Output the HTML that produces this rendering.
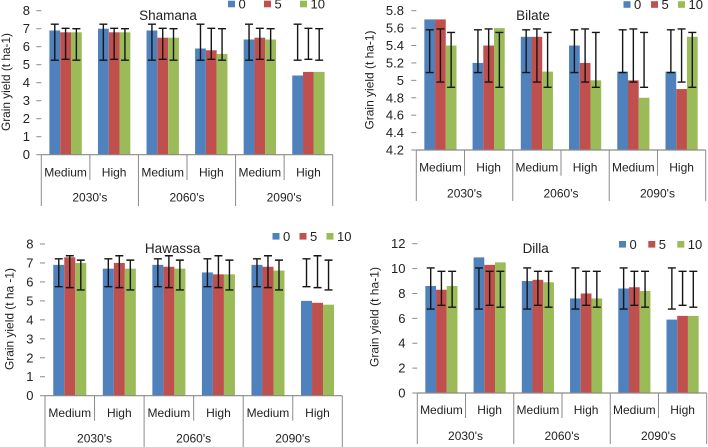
<!DOCTYPE html>
<html lang="en">
<head>
<meta charset="utf-8">
<title>Grain yield charts</title>
<style>
html,body{margin:0;padding:0;background:#fff;width:708px;height:447px;overflow:hidden}
svg{display:block;filter:blur(0.3px)}
text{font-family:"Liberation Sans",sans-serif;fill:#222}
</style>
</head>
<body>
<svg id="figure" xmlns="http://www.w3.org/2000/svg" width="708" height="447" viewBox="0 0 708 447"></svg>
<script>
const periods = ["2030's", "2060's", "2090's"];
const scenarios = ["Medium", "High"];
const seriesNames = ["0", "5", "10"];
const seriesColors = ["#4F81BD", "#C0504D", "#9BBB59"];

const shamanaTicks = ["0", "1", "2", "3", "4", "5", "6", "7", "8"];
const shamanaValues0 = [6.9, 7.0, 6.9, 5.9, 6.4, 4.4];
const shamanaValues5 = [6.8, 6.8, 6.5, 5.8, 6.5, 4.6];
const shamanaValues10 = [6.8, 6.8, 6.5, 5.6, 6.4, 4.6];
const shamanaErrLow = [5.25, 5.3, 5.25];
const shamanaErrHigh = [7.25, 7.02, 7.0];

const bilateTicks = ["4.2", "4.4", "4.6", "4.8", "5", "5.2", "5.4", "5.6", "5.8"];
const bilateValues0 = [5.7, 5.2, 5.5, 5.4, 5.1, 5.1];
const bilateValues5 = [5.7, 5.4, 5.5, 5.2, 5.0, 4.9];
const bilateValues10 = [5.4, 5.6, 5.1, 5.0, 4.8, 5.5];
const bilateErrLow = [5.09, 4.98, 4.92];
const bilateErrHigh = [5.58, 5.59, 5.55];

const hawassaTicks = ["0", "1", "2", "3", "4", "5", "6", "7", "8"];
const hawassaValues0 = [6.9, 6.7, 6.9, 6.5, 6.9, 5.0];
const hawassaValues5 = [7.3, 7.0, 6.8, 6.4, 6.8, 4.9];
const hawassaValues10 = [7.0, 6.7, 6.7, 6.4, 6.6, 4.8];
const hawassaErrLow = [5.75, 5.7, 5.58];
const hawassaErrHigh = [7.22, 7.38, 7.15];

const dillaTicks = ["0", "2", "4", "6", "8", "10", "12"];
const dillaValues0 = [8.6, 10.9, 9.0, 7.6, 8.4, 5.9];
const dillaValues5 = [8.3, 10.3, 9.1, 8.0, 8.5, 6.2];
const dillaValues10 = [8.6, 10.5, 8.9, 7.6, 8.2, 6.2];
const dillaErrLow = [6.75, 7.05, 6.9];
const dillaErrHigh = [10.05, 9.78, 9.78];

const svg = document.getElementById('figure');
const NS = 'http://www.w3.org/2000/svg';

function make(tag, parent, props, content) {
  const el = document.createElementNS(NS, tag);
  for (const k in props) el.setAttribute(k, props[k]);
  if (content !== undefined) el.textContent = content;
  parent.appendChild(el);
  return el;
}

function drawChart(c) {
  const g = make('g', svg, {});
  
  

  const min = parseFloat(c.ticks[0]);
  const max = parseFloat(c.ticks[c.ticks.length - 1]);
  const yScale = v => c.y0 + (v - min) / (max - min) * (c.yTop - c.y0);
  const groupCount = periods.length * scenarios.length;
  const groupW = (c.x1 - c.x0) / groupCount;
  const barW = groupW / 4.5;
  const xScale = (group, s) => c.x0 + group * groupW + groupW / 4.5 * 0.75 + s * barW;
  const axisColor = '#8a8a8a';

  // bars and error bars
  c.series.forEach((values, s) => {
    values.forEach((v, i) => {
      const top = yScale(v);
      const bar = make('rect', g, {x: xScale(i, s), y: top, width: barW, height: c.y0 - top, fill: seriesColors[s]});
      
      
    });
  });
  c.series.forEach((values, s) => {
    values.forEach((v, i) => {
      const cx = xScale(i, s) + barW / 2;
      const yl = yScale(c.errLow[s]);
      const yh = yScale(c.errHigh[s]);
      const d = 'M' + cx + ' ' + yl + 'V' + yh + 'M' + (cx - 4) + ' ' + yl + 'H' + (cx + 4) + 'M' + (cx - 4) + ' ' + yh + 'H' + (cx + 4);
      const err = make('path', g, {d: d, stroke: '#151515', 'stroke-width': 1.4, fill: 'none'});
      
      
    });
  });

  // y axis ticks and labels
  c.ticks.forEach(t => {
    const y = yScale(parseFloat(t));
    const mark = make('line', g, {x1: c.x0 - 5, x2: c.x0, y1: y, y2: y, stroke: axisColor, 'stroke-width': 1});
    
    
    const label = make('text', g, {x: c.labelX, y: y + 4.5, 'text-anchor': 'end', 'font-size': 13}, t);
    
    
  });

  // x axis line
  const axis = make('line', g, {x1: c.x0, x2: c.x1, y1: c.y0, y2: c.y0, stroke: axisColor, 'stroke-width': 1.2});
  
  

  // category separators and labels
  for (let i = 0; i <= groupCount; i++) {
    const x = c.x0 + i * groupW;
    const outer = i % scenarios.length === 0;
    const sep = make('line', g, {x1: x, x2: x, y1: c.y0, y2: outer ? c.outerY : c.innerY, stroke: axisColor, 'stroke-width': 1});
    
    
  }
  for (let i = 0; i < groupCount; i++) {
    const label = make('text', g, {x: c.x0 + (i + 0.5) * groupW, y: c.catY, 'text-anchor': 'middle', 'font-size': 12},
      scenarios[i % scenarios.length]);
    
    
  }
  periods.forEach((p, i) => {
    const label = make('text', g, {x: c.x0 + (i + 0.5) * scenarios.length * groupW, y: c.periodY, 'text-anchor': 'middle', 'font-size': 12}, p);
    
    
  });

  // y axis title
  const yTitle = make('text', g, {
    transform: 'translate(' + c.yTitleX + ' ' + c.yTitleY + ') rotate(-90)',
    'text-anchor': 'middle', 'font-size': 12, textLength: c.yTitleLen, lengthAdjust: 'spacingAndGlyphs'
  }, c.yTitle);
  
  

  // chart title
  const title = make('text', g, {x: c.titleX, y: c.titleY, 'text-anchor': 'middle', 'font-size': 13.5}, c.title);
  
  

  // legend
  seriesNames.forEach((n, s) => {
    const sw = make('rect', g, {x: c.legendX[s], y: c.legendY - 3.3, width: 7, height: 6.6, fill: seriesColors[s]});
    
    
    const lab = make('text', g, {x: c.legendX[s] + 10.5, y: c.legendY + 4.5, 'font-size': 13}, n);
    
    
  });
}

drawChart({
  key: 'shamana', title: 'Shamana', yTitle: 'Grain yield (t ha-1)', ticks: shamanaTicks,
  series: [shamanaValues0, shamanaValues5, shamanaValues10], errLow: shamanaErrLow, errHigh: shamanaErrHigh,
  x0: 41.3, x1: 332.7, y0: 154.7, yTop: 10.7, labelX: 30, innerY: 180, outerY: 206, catY: 176.5, periodY: 201.5,
  yTitleX: 10, yTitleY: 82, yTitleLen: 98, titleX: 168, titleY: 20, legendX: [228, 264, 300], legendY: 4
});
drawChart({
  key: 'bilate', title: 'Bilate', yTitle: 'Grain yield (t ha-1)', ticks: bilateTicks,
  series: [bilateValues0, bilateValues5, bilateValues10], errLow: bilateErrLow, errHigh: bilateErrHigh,
  x0: 416.3, x1: 705.7, y0: 150, yTop: 10.7, labelX: 404, innerY: 175.7, outerY: 201, catY: 171.5, periodY: 197.5,
  yTitleX: 373.5, yTitleY: 80, yTitleLen: 99, titleX: 533, titleY: 20, legendX: [623.5, 651, 678], legendY: 4.5
});
drawChart({
  key: 'hawassa', title: 'Hawassa', yTitle: 'Grain yield (t ha -1)', ticks: hawassaTicks,
  series: [hawassaValues0, hawassaValues5, hawassaValues10], errLow: hawassaErrLow, errHigh: hawassaErrHigh,
  x0: 45, x1: 342.3, y0: 395.7, yTop: 244, labelX: 33.5, innerY: 420.7, outerY: 447, catY: 417, periodY: 442.5,
  yTitleX: 13.5, yTitleY: 319, yTitleLen: 102, titleX: 172.7, titleY: 253, legendX: [272.5, 299.5, 326.5], legendY: 236.3
});
drawChart({
  key: 'dilla', title: 'Dilla', yTitle: 'Grain yield (t ha-1)', ticks: dillaTicks,
  series: [dillaValues0, dillaValues5, dillaValues10], errLow: dillaErrLow, errHigh: dillaErrHigh,
  x0: 417.3, x1: 706.7, y0: 393, yTop: 243.7, labelX: 405.5, innerY: 418, outerY: 444, catY: 414, periodY: 440,
  yTitleX: 378.5, yTitleY: 317, yTitleLen: 100, titleX: 535.7, titleY: 253, legendX: [619, 648.3, 677.3], legendY: 244.3
});
</script>
</body>
</html>
